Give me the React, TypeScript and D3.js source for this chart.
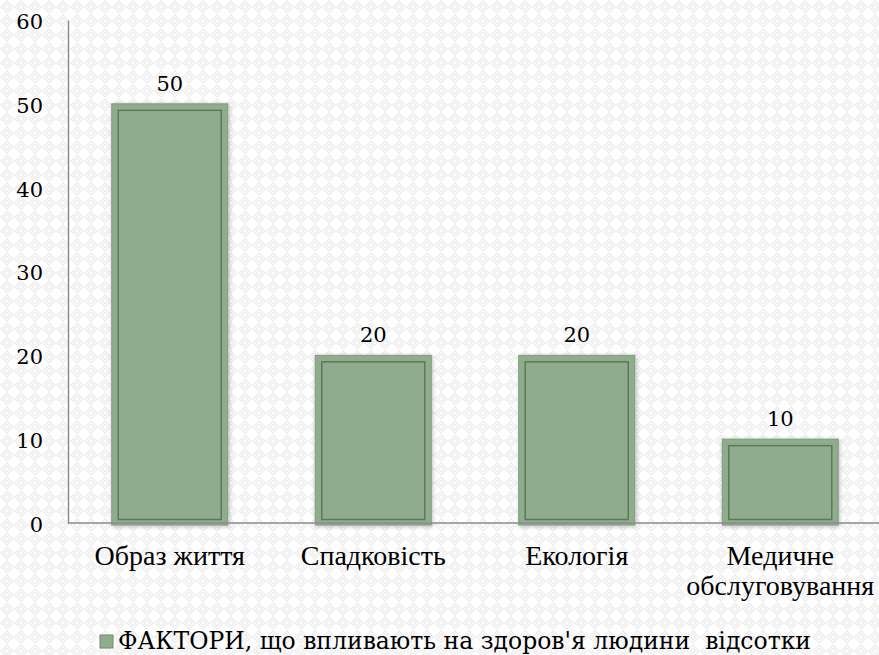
import React, { useEffect, useRef } from "react";
import * as d3 from "d3";

const categories = ["Образ життя", "Спадковість", "Екологія", "Медичне обслуговування"];
const categoryLines = [["Образ життя"], ["Спадковість"], ["Екологія"], ["Медичне", "обслуговування"]];
const values = [50, 20, 20, 10];
const yTicks = [0, 10, 20, 30, 40, 50, 60];
const seriesName = "ФАКТОРИ, що впливають на здоров'я людини  відсотки";

const W = 879;
const H = 655;
const margin = { top: 20, right: 0, bottom: 132, left: 68 };
const numFont = "DejaVu Serif";
const labelFont = "Liberation Serif";

export default function App() {
  const ref = useRef<SVGSVGElement>(null);

  useEffect(() => {
    const svg = d3.select(ref.current);
    svg.selectAll("*").remove();

    const defs = svg.append("defs");
    const pat = defs
      .append("pattern")
      .attr("id", "bgpat")
      .attr("width", 14)
      .attr("height", 14)
      .attr("patternUnits", "userSpaceOnUse");
    pat.append("rect").attr("width", 14).attr("height", 14).attr("fill", "#ffffff");
    pat
      .append("path")
      .attr("d", "M7,1 L13,7 L7,13 L1,7 Z M7,4 L10,7 L7,10 L4,7 Z")
      .attr("fill", "none")
      .attr("stroke", "#ececec")
      .attr("stroke-width", 1.2);

    const shadow = defs.append("filter").attr("id", "shadow").attr("x", "-20%").attr("y", "-20%").attr("width", "140%").attr("height", "140%");
    shadow
      .append("feDropShadow")
      .attr("dx", 1)
      .attr("dy", 1)
      .attr("stdDeviation", 2)
      .attr("flood-color", "#000")
      .attr("flood-opacity", 0.25);

    svg.append("rect").attr("width", W).attr("height", H).attr("fill", "url(#bgpat)");

    const x = d3
      .scaleBand()
      .domain(categories)
      .range([margin.left, margin.left + 4 * 203.5])
      .paddingInner(0.43)
      .paddingOuter(0.215);

    const y = d3
      .scaleLinear()
      .domain([0, 60])
      .range([H - margin.bottom, margin.top]);

    // y axis
    const yAxis = svg
      .append("g")
      .attr("transform", `translate(${margin.left},0)`)
      .call(d3.axisLeft(y).tickValues(yTicks).tickSize(0).tickPadding(25));
    yAxis.select(".domain").attr("stroke", "#8c8c8c").attr("stroke-width", 1.5);
    yAxis
      .selectAll("text")
      .style("font-family", numFont)
      .style("font-size", "21px")
      .attr("fill", "#000")
      .attr("dy", "0.4em")
      .attr("text-anchor", "end");

    // bars
    const bars = svg.append("g");
    categories.forEach((c, i) => {
      const x0 = x(c)!;
      const bw = x.bandwidth();
      const yTop = y(values[i]);
      const yBot = y(0) + 2;
      bars
        .append("rect")
        .attr("x", x0)
        .attr("y", yTop)
        .attr("width", bw)
        .attr("height", yBot - yTop)
        .attr("fill", "#8fac8c")
        .attr("stroke", "#7f9c7c")
        .attr("stroke-width", 1)
        .attr("filter", "url(#shadow)");
      bars
        .append("rect")
        .attr("x", x0 + 6.5)
        .attr("y", yTop + 6.5)
        .attr("width", bw - 13)
        .attr("height", yBot - yTop - 12)
        .attr("fill", "none")
        .attr("stroke", "#5f775c")
        .attr("stroke-width", 1.5);
      svg
        .append("text")
        .attr("x", x0 + bw / 2)
        .attr("y", yTop - 13)
        .attr("text-anchor", "middle")
        .style("font-family", numFont)
        .style("font-size", "21px")
        .attr("fill", "#000")
        .text(values[i]);
    });

    // x axis line
    svg
      .append("line")
      .attr("x1", margin.left)
      .attr("x2", W)
      .attr("y1", y(0))
      .attr("y2", y(0))
      .attr("stroke", "#8c8c8c")
      .attr("stroke-width", 1.5);

    // category labels
    categories.forEach((c, i) => {
      const cx = x(c)! + x.bandwidth() / 2;
      const t = svg
        .append("text")
        .attr("x", cx)
        .attr("y", 565)
        .attr("text-anchor", "middle")
        .style("font-family", labelFont)
        .style("font-size", "28px")
        .attr("fill", "#000");
      categoryLines[i].forEach((line, j) => {
        t.append("tspan")
          .attr("x", cx)
          .attr("dy", j === 0 ? 0 : 30)
          .text(line);
      });
    });

    // legend
    const lg = svg.append("g").attr("transform", "translate(100,649)");
    lg.append("rect")
      .attr("x", 0)
      .attr("y", -14)
      .attr("width", 13)
      .attr("height", 13)
      .attr("fill", "#8fac8c")
      .attr("stroke", "#6f8a6c")
      .attr("stroke-width", 1);
    lg.append("text")
      .attr("x", 18)
      .attr("y", 0)
      .style("font-family", numFont)
      .style("font-size", "23.5px")
      .style("white-space", "pre")
      .attr("fill", "#000")
      .text(seriesName);
  }, []);

  return (
    <svg
      ref={ref}
      width={W}
      height={H}
      style={{ position: "absolute", left: 0, top: 0, display: "block" }}
    />
  );
}
